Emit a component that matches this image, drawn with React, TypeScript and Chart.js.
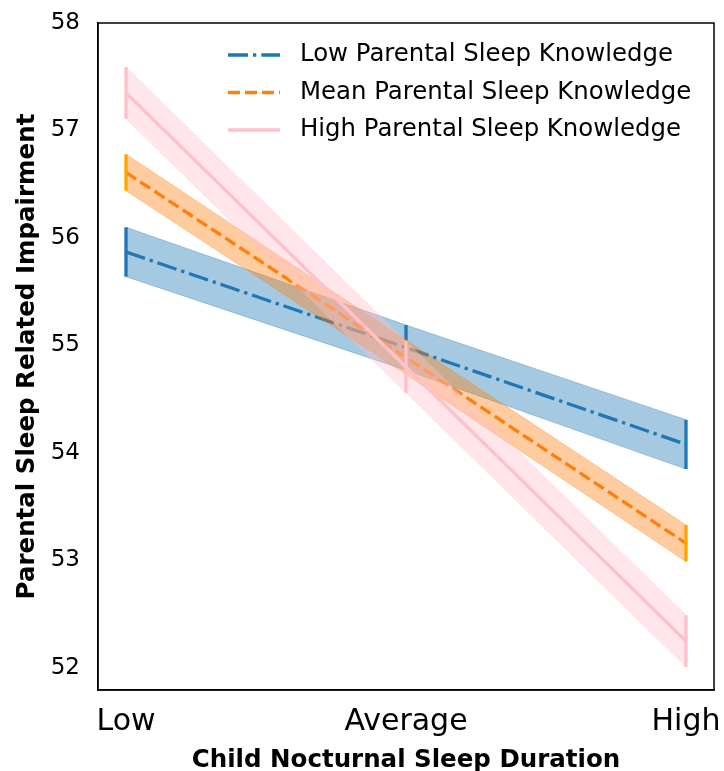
import React, { useEffect, useRef } from "react";
import { Chart, registerables } from "chart.js";

Chart.register(...registerables);

const categories = ["Low", "Average", "High"];
const yTicks = [52, 53, 54, 55, 56, 57, 58];

const seriesNames = [
  "Low Parental Sleep Knowledge",
  "Mean Parental Sleep Knowledge",
  "High Parental Sleep Knowledge",
];
const lowMean = [55.87, 54.98, 54.08];
const lowErr = [0.23, 0.21, 0.23];
const meanMean = [56.61, 54.89, 53.16];
const meanErr = [0.17, 0.16, 0.17];
const highMean = [57.35, 54.8, 52.25];
const highErr = [0.24, 0.24, 0.24];

const FONT = "'DejaVu Sans', sans-serif";
const LW = 3.3;

const styles = [
  { line: "#1f77b4", band: "rgba(31,119,180,0.4)", err: "#1f77b4", dash: [20, 5, 3.3, 5] },
  { line: "#ff7f0e", band: "rgba(255,127,14,0.4)", err: "#ffa500", dash: [12, 5] },
  { line: "#ffc0cb", band: "rgba(255,192,203,0.4)", err: "#ffc0cb", dash: [] as number[] },
];

function buildDatasets() {
  const all = [lowMean, meanMean, highMean];
  const errs = [lowErr, meanErr, highErr];
  const ds: any[] = [];
  let order = 100;
  all.forEach((m, s) => {
    const e = errs[s];
    const st = styles[s];
    const upperIndex = ds.length;
    ds.push({
      label: "_upper" + s,
      data: m.map((v, i) => ({ x: i, y: v + e[i] })),
      borderWidth: 0.8,
      borderColor: st.band,
      pointRadius: 0,
      fill: false,
      order: order--,
    });
    ds.push({
      label: "_lower" + s,
      data: m.map((v, i) => ({ x: i, y: v - e[i] })),
      borderWidth: 0.8,
      borderColor: st.band,
      backgroundColor: st.band,
      pointRadius: 0,
      fill: upperIndex,
      order: order--,
    });
    ds.push({
      label: seriesNames[s],
      data: m.map((v, i) => ({ x: i, y: v })),
      borderColor: st.line,
      borderWidth: LW,
      borderDash: st.dash,
      pointRadius: 0,
      fill: false,
      order: order--,
    });
    const errData: any[] = [];
    m.forEach((v, i) => {
      errData.push({ x: i, y: v - e[i] });
      errData.push({ x: i, y: v + e[i] });
      errData.push({ x: i, y: null });
    });
    ds.push({
      label: "_err" + s,
      data: errData,
      borderColor: st.err,
      borderWidth: LW,
      pointRadius: 0,
      fill: false,
      spanGaps: false,
      order: order--,
    });
  });
  return ds;
}

const framePlugin = {
  id: "frame",
  afterDraw(chart: any) {
    const { ctx, chartArea: a } = chart;
    ctx.save();
    ctx.strokeStyle = "#000";
    ctx.lineWidth = 1.5;
    ctx.strokeRect(a.left, a.top, a.right - a.left, a.bottom - a.top);
    ctx.restore();
  },
};

const legendPlugin = {
  id: "innerLegend",
  afterDraw(chart: any) {
    const { ctx, chartArea: a } = chart;
    ctx.save();
    const x0 = a.left + 130;
    const y0 = a.top + 32;
    const step = 37.5;
    seriesNames.forEach((name, i) => {
      const y = y0 + i * step;
      const st = styles[i];
      ctx.beginPath();
      ctx.strokeStyle = st.line;
      ctx.lineWidth = LW;
      ctx.setLineDash(st.dash);
      ctx.moveTo(x0, y);
      ctx.lineTo(x0 + 52, y);
      ctx.stroke();
      ctx.setLineDash([]);
      ctx.fillStyle = "#000";
      ctx.font = "24.4px " + FONT;
      ctx.textBaseline = "middle";
      ctx.textAlign = "left";
      ctx.fillText(name, x0 + 72, y);
    });
    ctx.restore();
  },
};

export default function App() {
  const ref = useRef<HTMLCanvasElement | null>(null);
  useEffect(() => {
    if (!ref.current) return;
    const chart = new Chart(ref.current, {
      type: "line",
      data: { datasets: buildDatasets() },
      plugins: [framePlugin, legendPlugin],
      options: {
        animation: false,
        responsive: true,
        maintainAspectRatio: false,
        layout: { padding: { left: 0, right: 10, top: 23, bottom: 0 } },
        plugins: {
          legend: { display: false },
          tooltip: { enabled: false },
        },
        scales: {
          x: {
            type: "linear",
            min: -0.1,
            max: 2.1,
            afterBuildTicks: (s: any) => {
              s.ticks = categories.map((_, i) => ({ value: i }));
            },
            afterFit: (s: any) => {
              s.height = 81;
              s.paddingLeft = 0;
              s.paddingRight = 0;
            },
            grid: { display: false, drawTicks: true, tickLength: 8, tickColor: "#000", tickWidth: 1.5 },
            border: { display: true, color: "#000", width: 1.5 },
            ticks: {
              color: "#000",
              font: { family: FONT, size: 30 },
              padding: 6,
              maxRotation: 0,
              callback: (v: any) => categories[Math.round(v)] ?? "",
            },
            title: {
              display: true,
              text: "Child Nocturnal Sleep Duration",
              color: "#000",
              font: { family: FONT, size: 24.5, weight: "bold" },
              padding: { top: 0, bottom: -4 },
            },
          },
          y: {
            type: "linear",
            min: 51.795,
            max: 58,
            afterBuildTicks: (s: any) => {
              s.ticks = yTicks.map((v) => ({ value: v }));
            },
            afterFit: (s: any) => {
              s.width = 98;
              s.paddingTop = 0;
              s.paddingBottom = 0;
            },
            grid: { display: false, drawTicks: true, tickLength: 8, tickColor: "#000", tickWidth: 1.5 },
            border: { display: true, color: "#000", width: 1.5 },
            ticks: {
              color: "#000",
              font: { family: FONT, size: 23 },
              padding: 10,
              callback: (v: any) => String(v),
            },
            title: {
              display: true,
              text: "Parental Sleep Related Impairment",
              color: "#000",
              font: { family: FONT, size: 24.5, weight: "bold" },
              padding: { top: 13, bottom: 0 },
            },
          },
        },
      } as any,
    });
    return () => chart.destroy();
  }, []);
  return (
    <div style={{ position: "fixed", left: 0, top: 0, width: 724, height: 771, background: "#fff" }}>
      <canvas ref={ref} />
    </div>
  );
}
